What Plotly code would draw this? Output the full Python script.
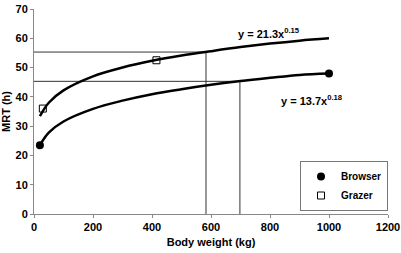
import plotly.graph_objects as go

# Observed data points
browser_x = [20, 1000]
browser_y = [23.5, 48.0]
grazer_x = [30, 415]
grazer_y = [36.0, 52.5]

# Trend curves
curve_x = [20, 50, 100, 200, 300, 400, 500, 600, 700, 800, 900, 1000]
grazer_curve_y = [33.4, 38.0, 42.2, 47.0, 50.0, 52.3, 54.1, 55.6, 57.0, 58.2, 59.2, 60.0]
browser_curve_y = [23.5, 27.8, 31.6, 35.9, 38.7, 40.9, 42.6, 44.1, 45.4, 46.5, 47.5, 48.0]

# Reference lines
ref_grazer = (583, 55.3)
ref_browser = (698, 45.3)

x_ticks = [0, 200, 400, 600, 800, 1000, 1200]
y_ticks = [0, 10, 20, 30, 40, 50, 60, 70]

FONT = "Liberation Sans, Arial, sans-serif"

fig = go.Figure()

for (rx, ry) in [ref_grazer, ref_browser]:
    fig.add_trace(go.Scatter(x=[0, rx, rx], y=[ry, ry, 0], mode="lines",
                             line=dict(color="#333333", width=1), showlegend=False,
                             hoverinfo="skip"))

fig.add_trace(go.Scatter(x=curve_x, y=grazer_curve_y, mode="lines", line_shape="spline",
                         line=dict(color="black", width=2.5), showlegend=False))
fig.add_trace(go.Scatter(x=curve_x, y=browser_curve_y, mode="lines", line_shape="spline",
                         line=dict(color="black", width=2.5), showlegend=False))

fig.add_trace(go.Scatter(x=browser_x, y=browser_y, mode="markers", name="<b>Browser</b>",
                         marker=dict(symbol="circle", size=8, color="black")))
fig.add_trace(go.Scatter(x=grazer_x, y=grazer_y, mode="markers", name="<b>Grazer</b>",
                         marker=dict(symbol="square-open", size=7, color="black",
                                     line=dict(width=1))))

fig.add_annotation(x=(269 - 34) / 354, y=(214 - 24) / 205, xref="paper", yref="paper",
                   text="<b>y = 21.3x<sup>0.15</sup></b>", showarrow=False,
                   font=dict(family=FONT, size=11, color="black"))
fig.add_annotation(x=(345 - 34) / 354, y=(214 - 100) / 205, xref="paper", yref="paper",
                   text="<b>y = 13.7x<sup>0.18</sup></b>", showarrow=False,
                   font=dict(family=FONT, size=11, color="black"))

axis_common = dict(showgrid=False, zeroline=False, showline=True, linecolor="#888888",
                   linewidth=1, ticks="outside", ticklen=3, tickcolor="#888888",
                   automargin=False,
                   tickfont=dict(family=FONT, size=11, color="black"))

fig.update_xaxes(range=[0, 1200], tickvals=x_ticks, ticktext=[f"<b>{v}</b>" for v in x_ticks],
                 title=dict(text="<b>Body weight (kg)</b>", font=dict(family=FONT, size=11, color="black"),
                            standoff=6),
                 **axis_common)
fig.update_yaxes(range=[0, 70], tickvals=y_ticks, ticktext=[f"<b>{v}</b>" for v in y_ticks],
                 title=dict(text="<b>MRT (h)</b>", font=dict(family=FONT, size=11, color="black"),
                            standoff=2),
                 **axis_common)

fig.update_layout(
    width=401, height=253,
    margin=dict(l=34, r=13, t=9, b=39, autoexpand=False),
    paper_bgcolor="white", plot_bgcolor="white",
    legend=dict(x=(388 - 34) / 354, y=(214 - 161) / 205, xanchor="right", yanchor="top",
                bordercolor="#777777", borderwidth=1, bgcolor="white",
                font=dict(family=FONT, size=10, color="black"),
                itemwidth=30, tracegroupgap=0),
    font=dict(family=FONT, size=11, color="black"),
)

fig.write_html("out.html", config={"displayModeBar": False},
               post_script="document.body.style.margin='0';")
